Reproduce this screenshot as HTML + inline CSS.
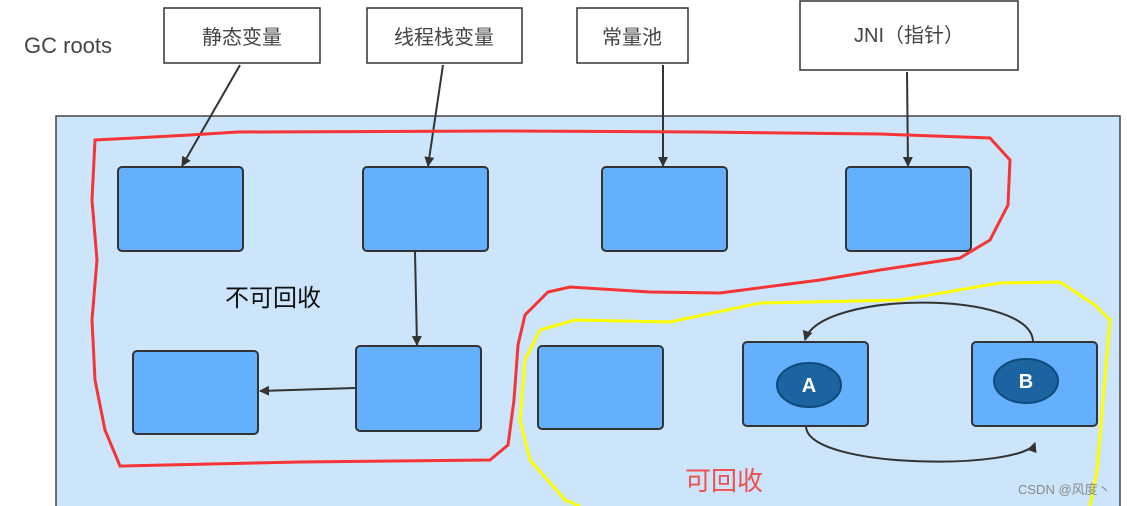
<!DOCTYPE html>
<html><head><meta charset="utf-8"><style>
body{margin:0;width:1127px;height:506px;overflow:hidden;background:#fff;font-family:"Liberation Sans","Noto Sans CJK SC",sans-serif}
</style></head><body>
<svg width="1127" height="506" xmlns="http://www.w3.org/2000/svg" style="position:absolute;left:0;top:0">
<defs><marker id="ah" markerWidth="10" markerHeight="10" refX="9" refY="5" orient="auto" markerUnits="userSpaceOnUse"><path d="M0,0 L10,5 L0,10 z" fill="#333"/></marker></defs>
<rect x="56" y="116" width="1064" height="400" fill="#cce5fb" stroke="#444" stroke-width="1.5"/>
<text x="24" y="53" font-size="22" fill="#444">GC roots</text>
<g fill="#fff" stroke="#333" stroke-width="1.5">
<rect x="164" y="8" width="156" height="55"/><rect x="367" y="8" width="155" height="55"/>
<rect x="577" y="8" width="111" height="55"/><rect x="800" y="1" width="218" height="69"/>
</g>
<g font-size="20" fill="#444" text-anchor="middle">
<text x="242" y="44">静态变量</text><text x="444" y="44">线程栈变量</text>
<text x="632" y="44">常量池</text><text x="909" y="42">JNI（指针）</text>
</g>
<g fill="#64b0fd" stroke="#333" stroke-width="2">
<rect x="118" y="167" width="125" height="84" rx="4"/><rect x="363" y="167" width="125" height="84" rx="4"/>
<rect x="602" y="167" width="125" height="84" rx="4"/><rect x="846" y="167" width="125" height="84" rx="4"/>
<rect x="133" y="351" width="125" height="83" rx="4"/><rect x="356" y="346" width="125" height="85" rx="4"/>
<rect x="538" y="346" width="125" height="83" rx="4"/><rect x="743" y="342" width="125" height="84" rx="4"/>
<rect x="972" y="342" width="125" height="84" rx="4"/>
</g>
<g stroke="#333" stroke-width="2" fill="none" marker-end="url(#ah)">
<line x1="240" y1="65" x2="182" y2="166"/><line x1="443" y1="65" x2="428" y2="166"/>
<line x1="663" y1="65" x2="663" y2="166"/><line x1="907" y1="72" x2="908" y2="166"/>
<line x1="415" y1="252" x2="417" y2="345"/><line x1="355" y1="388" x2="260" y2="391"/>
<path d="M1033,341 C1030,290 820,290 805,340"/><path d="M806,427 C810,470 1025,470 1035,443"/>
</g>
<g fill="#1b64a0" stroke="#0f4a7a" stroke-width="2">
<ellipse cx="809" cy="385" rx="32" ry="22"/><ellipse cx="1026" cy="381" rx="32" ry="22"/>
</g>
<g font-size="20" font-weight="bold" fill="#fff" text-anchor="middle"><text x="809" y="392">A</text><text x="1026" y="388">B</text></g>
<path d="M95,140 L190,135 L238,132 L500,131 L700,132 L880,134 L990,138 L1010,160 L1008,205 L990,240 L960,258 L880,270 L820,280 L720,293 L650,292 L570,287 L548,292 L525,315 L518,345 L514,400 L508,445 L490,460 L300,462 L120,466 L105,430 L95,380 L92,320 L97,260 L92,200 Z" fill="none" stroke="#f53535" stroke-width="3"/>
<path d="M540,330 L575,320 L670,322 L760,303 L900,300 L1000,283 L1060,282 L1095,305 L1110,320 L1103,400 L1097,470 L1090,506 M540,330 L525,360 L520,420 L530,460 L565,500 L580,506" fill="none" stroke="#ffff00" stroke-width="3"/>
<text x="225" y="306" font-size="24" fill="#111">不可回收</text>
<text x="685" y="490" font-size="26" fill="#f05050">可回收</text>
<text x="1018" y="494" font-size="13" fill="#888">CSDN @风度丶</text>
</svg>
</body></html>
